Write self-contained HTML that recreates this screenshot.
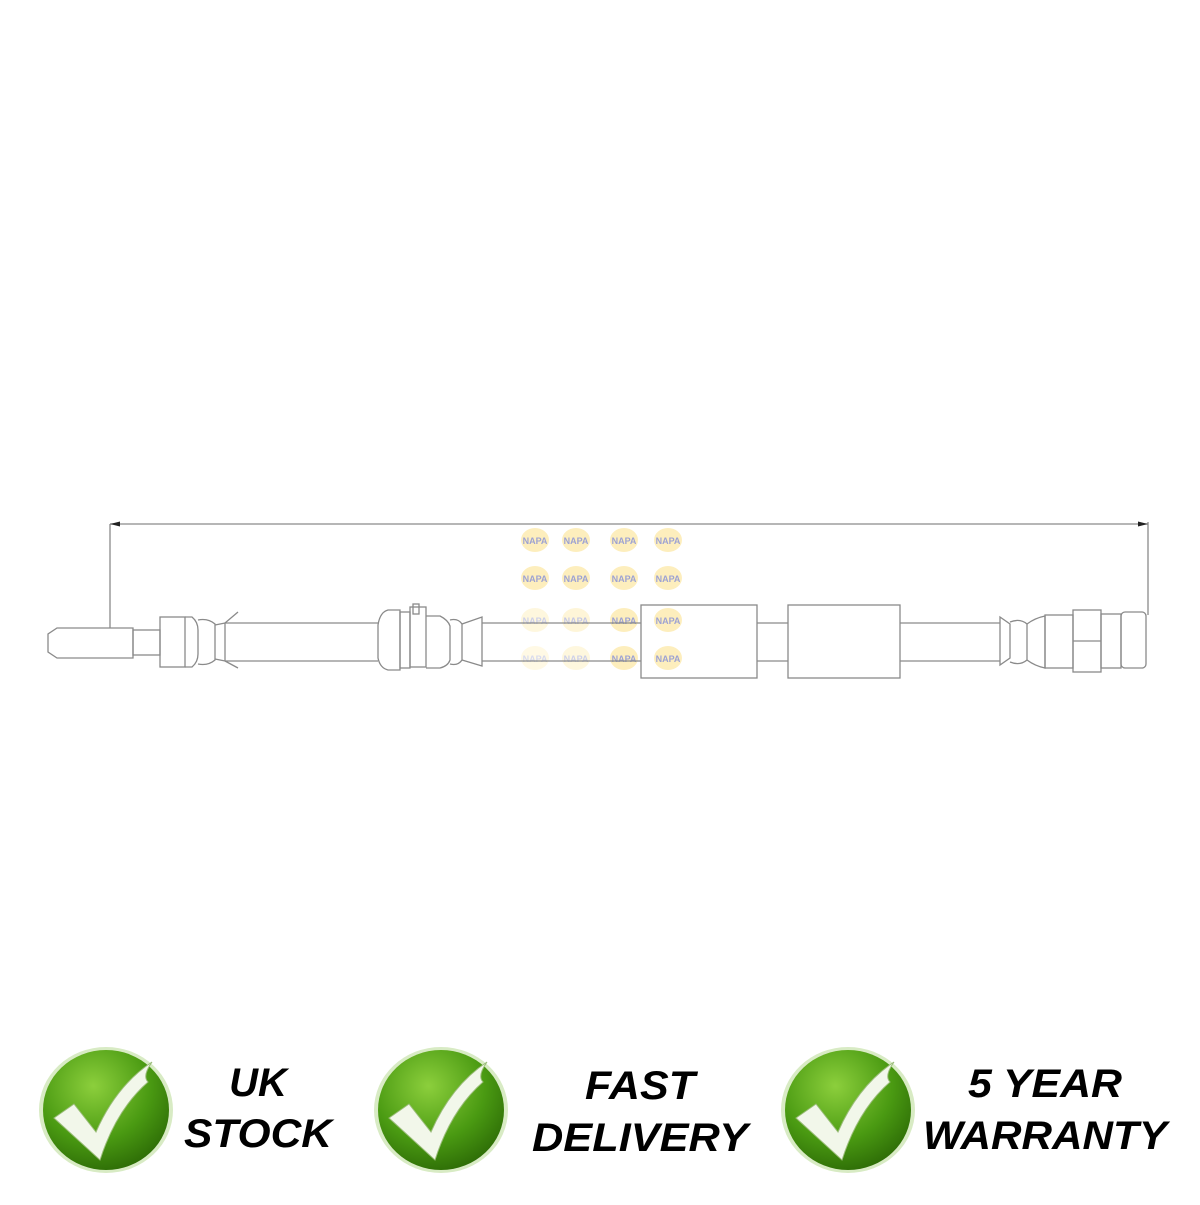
<!DOCTYPE html>
<html><head><style>html,body{margin:0;padding:0;background:#fff}</style></head><body>
<svg width="1200" height="1200" viewBox="0 0 1200 1200" xmlns="http://www.w3.org/2000/svg">
<defs>
<radialGradient id="g" cx="40%" cy="30%" r="75%">
<stop offset="0" stop-color="#8ccf3c"/><stop offset="0.6" stop-color="#4a9a12"/><stop offset="1" stop-color="#2c6a06"/>
</radialGradient>
<g id="napa"><ellipse cx="0" cy="0" rx="14" ry="12" fill="#fde9a8"/><text x="0" y="4" font-family="Liberation Sans" font-size="9" font-weight="bold" fill="#7d84c4" text-anchor="middle">NAPA</text></g>
<g id="badge"><ellipse cx="0" cy="0" rx="67" ry="63" fill="#d8ebc4"/><ellipse cx="0" cy="0" rx="63" ry="60" fill="url(#g)"/>
<path d="M-52 8 L-32 -6 L-10 22 Q10 -24 46 -48 Q36 -34 42 -28 Q10 0 -6 50 Z" fill="#f2f7ea" stroke="#9bbd7a" stroke-width="1"/></g>
</defs>
<g fill="none" stroke="#8a8a8a" stroke-width="1.3">
<line x1="110" y1="524" x2="1148" y2="524"/>
<line x1="110" y1="524" x2="110" y2="628"/>
<line x1="1148" y1="522" x2="1148" y2="615"/>
</g>
<path d="M110 524 l10 -2.5 v5z M1148 524 l-10 -2.5 v5z" fill="#222"/>
<g opacity="0.75">
<use href="#napa" x="535" y="540"/><use href="#napa" x="576" y="540"/><use href="#napa" x="624" y="540"/><use href="#napa" x="668" y="540"/>
<use href="#napa" x="535" y="578"/><use href="#napa" x="576" y="578"/><use href="#napa" x="624" y="578"/><use href="#napa" x="668" y="578"/>
<use href="#napa" x="535" y="620" opacity="0.5"/><use href="#napa" x="576" y="620" opacity="0.6"/><use href="#napa" x="624" y="620"/><use href="#napa" x="668" y="620"/>
<use href="#napa" x="535" y="658" opacity="0.4"/><use href="#napa" x="576" y="658" opacity="0.5"/><use href="#napa" x="624" y="658"/><use href="#napa" x="668" y="658"/>
</g>
<g fill="none" stroke="#8a8a8a" stroke-width="1.3">
<path d="M133 628 H57 L48 634 V652 L57 658 H133 Z"/>
<rect x="133" y="630" width="27" height="25"/>
<rect x="160" y="617" width="25" height="50"/>
<path d="M185 617 H192 Q198 622 198 630 V654 Q198 662 192 667 H185"/>
<path d="M198 620 Q208 618 215 624 V660 Q208 666 198 664"/>
<path d="M215 625 L225 623 V661 L215 659"/>
<path d="M225 623 L238 612 M225 661 L238 668"/>
<line x1="225" y1="623" x2="378" y2="623"/><line x1="225" y1="661" x2="378" y2="661"/>
<path d="M388 610 Q380 612 378 625 V658 Q380 668 388 670 H400 V610 Z"/>
<rect x="400" y="612" width="10" height="56"/>
<rect x="410" y="607" width="16" height="60"/>
<rect x="413" y="604" width="6" height="10"/>
<path d="M426 616 H440 Q448 620 450 626 V660 Q448 666 440 668 H426"/>
<path d="M450 620 Q458 618 462 624 V660 Q458 666 450 664"/>
<path d="M462 624 L482 617 V666 L462 660"/>
<line x1="482" y1="623" x2="641" y2="623"/><line x1="482" y1="661" x2="641" y2="661"/>
<rect x="641" y="605" width="116" height="73"/>
<line x1="757" y1="623" x2="788" y2="623"/><line x1="757" y1="661" x2="788" y2="661"/>
<rect x="788" y="605" width="112" height="73"/>
<line x1="900" y1="623" x2="1000" y2="623"/><line x1="900" y1="661" x2="1000" y2="661"/>
<path d="M1000 617 L1010 624 V658 L1000 665 Z"/>
<path d="M1010 622 Q1020 618 1027 624 V660 Q1020 666 1010 662"/>
<path d="M1027 624 Q1035 618 1045 616 V668 Q1035 666 1027 660"/>
<rect x="1045" y="615" width="28" height="53"/>
<rect x="1073" y="610" width="28" height="62"/>
<line x1="1073" y1="641" x2="1101" y2="641"/>
<rect x="1101" y="614" width="20" height="54"/>
<rect x="1121" y="612" width="25" height="56" rx="4"/>
</g>
<use href="#badge" x="106" y="1110"/>
<use href="#badge" x="441" y="1110"/>
<use href="#badge" x="848" y="1110"/>
<g font-family="Liberation Sans, sans-serif" font-weight="bold" font-style="italic" font-size="40" text-anchor="middle" fill="#000">
<text x="258" y="1096">UK</text>
<text x="258" y="1147" textLength="148" lengthAdjust="spacingAndGlyphs">STOCK</text>
<text x="640" y="1099" textLength="110" lengthAdjust="spacingAndGlyphs">FAST</text>
<text x="640" y="1151" textLength="216" lengthAdjust="spacingAndGlyphs">DELIVERY</text>
<text x="1045" y="1097" textLength="154" lengthAdjust="spacingAndGlyphs">5 YEAR</text>
<text x="1045" y="1149" textLength="244" lengthAdjust="spacingAndGlyphs">WARRANTY</text>
</g>
</svg>
</body></html>
